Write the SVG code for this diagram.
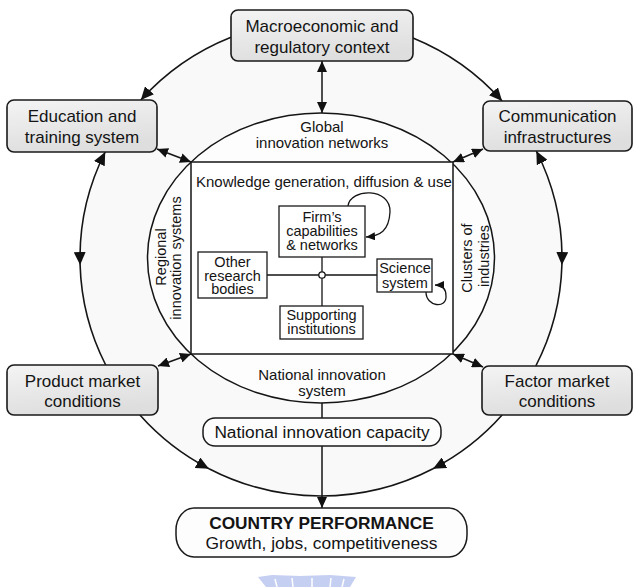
<svg xmlns="http://www.w3.org/2000/svg" width="640" height="587" viewBox="0 0 640 587">
  <defs>
    <linearGradient id="boxFill" x1="0" y1="0" x2="0.3" y2="1">
      <stop offset="0" stop-color="#f4f4f4"/>
      <stop offset="1" stop-color="#dedede"/>
    </linearGradient>
    <marker id="bigHead" markerUnits="userSpaceOnUse" viewBox="0 0 13 12" refX="13" refY="6" markerWidth="13" markerHeight="12" orient="auto-start-reverse">
      <path d="M0,0 L13,6 L0,12 Z" fill="#111"/>
    </marker>
    <marker id="smallHead" markerUnits="userSpaceOnUse" viewBox="0 0 11 10" refX="11" refY="5" markerWidth="11" markerHeight="10" orient="auto-start-reverse">
      <path d="M0,0 L11,5 L0,10 Z" fill="#111"/>
    </marker>
    <marker id="loopHead" markerUnits="userSpaceOnUse" viewBox="0 0 9 8" refX="9" refY="4" markerWidth="9" markerHeight="8" orient="auto">
      <path d="M0,0 L9,4 L0,8 Z" fill="#111"/>
    </marker>
    <style>
      .ring { fill: none; stroke: #151515; stroke-width: 1.6; }
      .link { fill: none; stroke: #151515; stroke-width: 1.5; }
      .thin { fill: none; stroke: #151515; stroke-width: 1.3; }
      .outer-box { fill: url(#boxFill); stroke: #1a1a1a; stroke-width: 1.6; }
      .plain-box { fill: #fdfdfd; stroke: #1a1a1a; stroke-width: 1.5; }
      .inner-box { fill: #ffffff; stroke: #1a1a1a; stroke-width: 1.3; }
      text { font-family: "Liberation Sans", Arial, sans-serif; fill: #141414; }
      .lg { font-size: 17px; text-anchor: middle; }
      .md { font-size: 15px; text-anchor: middle; }
      .in { font-size: 14.5px; text-anchor: middle; }
      .sm { font-size: 14.5px; text-anchor: middle; }
      .bold { font-weight: bold; }
    </style>
  </defs>

  <rect width="640" height="587" fill="#ffffff"/>

  <!-- shaded area inside the outer ring -->
  <ellipse cx="321" cy="258" rx="241" ry="238" fill="#f9f9f9"/>

  <!-- national innovation system ellipse -->
  <g id="innovation-system">
    <ellipse cx="321" cy="258" rx="173.5" ry="145" fill="#fdfdfd" stroke="#151515" stroke-width="1.5"/>
    <text class="md" x="322" y="132">Global</text>
    <text class="md" x="322" y="148">innovation networks</text>
    <text class="md" x="322" y="380">National innovation</text>
    <text class="md" x="322" y="396">system</text>
    <text class="sm" transform="translate(166,257) rotate(-90)">Regional</text>
    <text class="sm" transform="translate(181,258) rotate(-90)">innovation systems</text>
    <text class="sm" transform="translate(472,258) rotate(-90)">Clusters of</text>
    <text class="sm" transform="translate(489,256) rotate(-90)">industries</text>
  </g>

  <!-- knowledge core -->
  <g id="knowledge">
    <rect x="191" y="162" width="262" height="192" fill="#ffffff" stroke="#151515" stroke-width="1.5"/>
    <text x="196" y="187" font-size="15">Knowledge generation, diffusion &amp; use</text>
  </g>

  <g id="connectors">
    <!-- outer ring segments -->
    <path class="ring" d="M231,37.2 A241,238 0 0 0 140.8,100" marker-end="url(#bigHead)"/>
    <path class="ring" d="M413,38 A241,238 0 0 1 502.1,101" marker-end="url(#bigHead)"/>
    <path class="ring" d="M105.2,152 A241,238 0 0 0 80.1,265" marker-start="url(#bigHead)" marker-end="url(#bigHead)"/>
    <path class="ring" d="M80.1,265 A241,238 0 0 0 105.7,365"/>
    <path class="ring" d="M536.3,151 A241,238 0 0 1 561.9,265" marker-start="url(#bigHead)" marker-end="url(#bigHead)"/>
    <path class="ring" d="M561.9,265 A241,238 0 0 1 535.8,366"/>
    <path class="ring" d="M139.9,415 A241,238 0 0 0 209,468.7" marker-end="url(#bigHead)"/>
    <path class="ring" d="M209,468.7 A241,238 0 0 0 433,468.7"/>
    <path class="ring" d="M502.1,415 A241,238 0 0 1 433,468.7" marker-end="url(#bigHead)"/>

    <!-- links between context boxes and the core -->
    <path class="link" d="M322,61 L322,113" marker-start="url(#smallHead)" marker-end="url(#smallHead)"/>
    <path class="link" d="M157,149 L191,162" marker-start="url(#smallHead)" marker-end="url(#smallHead)"/>
    <path class="link" d="M483,149 L453,162" marker-start="url(#smallHead)" marker-end="url(#smallHead)"/>
    <path class="link" d="M158,366 L191,354" marker-start="url(#smallHead)" marker-end="url(#smallHead)"/>
    <path class="link" d="M483,367 L453,354" marker-start="url(#smallHead)" marker-end="url(#smallHead)"/>

    <!-- flow down to performance -->
    <path class="link" d="M322,403 L322,418"/>
    <path class="link" d="M322,446 L322,508" marker-end="url(#smallHead)"/>

    <!-- hub lines -->
    <path class="thin" d="M267,275 L377,275 M322,257 L322,306"/>

    <!-- self loops -->
    <path class="thin" d="M348,206 C350,188 391,187 390,212 C389,231 380,236 366,237" marker-end="url(#loopHead)"/>
    <path class="thin" d="M426,292 C426,307 447,309 446,296 C446,288 442,285 435,285" marker-end="url(#loopHead)"/>
  </g>

  <g id="hub">
    <circle cx="322" cy="275" r="3.2" fill="#ffffff" stroke="#151515" stroke-width="1.3"/>
  </g>

  <g id="firm">
    <rect class="inner-box" x="279" y="206" width="86" height="51"/>
    <text class="in" x="322" y="221.5">Firm’s</text>
    <text class="in" x="322" y="235.5">capabilities</text>
    <text class="in" x="322" y="249.5">&amp; networks</text>
  </g>

  <g id="other-research">
    <rect class="inner-box" x="198" y="252" width="69" height="46"/>
    <text class="in" x="232.5" y="266.5">Other</text>
    <text class="in" x="232.5" y="280.5">research</text>
    <text class="in" x="232.5" y="294">bodies</text>
  </g>

  <g id="science">
    <rect class="inner-box" x="377" y="259" width="55" height="33"/>
    <text class="in" x="405" y="272.5">Science</text>
    <text class="in" x="405" y="287.5">system</text>
  </g>

  <g id="supporting">
    <rect class="inner-box" x="280" y="306" width="83" height="33"/>
    <text class="in" x="321.5" y="319.5">Supporting</text>
    <text class="in" x="321.5" y="334">institutions</text>
  </g>

  <g id="macro">
    <rect class="outer-box" x="231" y="10" width="182" height="51" rx="7"/>
    <text class="lg" x="322" y="32">Macroeconomic and</text>
    <text class="lg" x="322" y="53">regulatory context</text>
  </g>

  <g id="education">
    <rect class="outer-box" x="7" y="100" width="150" height="52" rx="7"/>
    <text class="lg" x="82" y="122">Education and</text>
    <text class="lg" x="82" y="143">training system</text>
  </g>

  <g id="communication">
    <rect class="outer-box" x="483" y="101" width="149" height="50" rx="7"/>
    <text class="lg" x="557.5" y="122">Communication</text>
    <text class="lg" x="557.5" y="143">infrastructures</text>
  </g>

  <g id="product-market">
    <rect class="outer-box" x="7" y="365" width="151" height="50" rx="7"/>
    <text class="lg" x="82.5" y="387">Product market</text>
    <text class="lg" x="82.5" y="407">conditions</text>
  </g>

  <g id="factor-market">
    <rect class="outer-box" x="482" y="366" width="150" height="49" rx="7"/>
    <text class="lg" x="557" y="387">Factor market</text>
    <text class="lg" x="557" y="407">conditions</text>
  </g>

  <g id="capacity">
    <rect class="plain-box" x="203" y="418" width="238" height="28" rx="12" ry="12"/>
    <text class="lg" x="322" y="438" style="font-size:17.3px">National innovation capacity</text>
  </g>

  <g id="performance">
    <rect class="plain-box" x="176" y="508" width="291" height="49" rx="18" ry="22"/>
    <text class="lg bold" x="321.5" y="529" style="font-size:17.3px">COUNTRY PERFORMANCE</text>
    <text class="lg" x="321.5" y="549" style="font-size:17.4px">Growth, jobs, competitiveness</text>
  </g>

  <!-- faint emblem at the foot -->
  <g id="emblem" opacity="0.6">
    <path d="M258,577 L272,575 L300,576 L330,575 L356,577 L350,587 L266,587 Z" fill="#9fb0ea"/>
    <path d="M275,579 L277,587 M292,578 L293,587 M312,578 L312,587 M331,578 L330,587 M344,579 L342,587" stroke="#ffffff" stroke-width="1.5"/>
  </g>
</svg>
